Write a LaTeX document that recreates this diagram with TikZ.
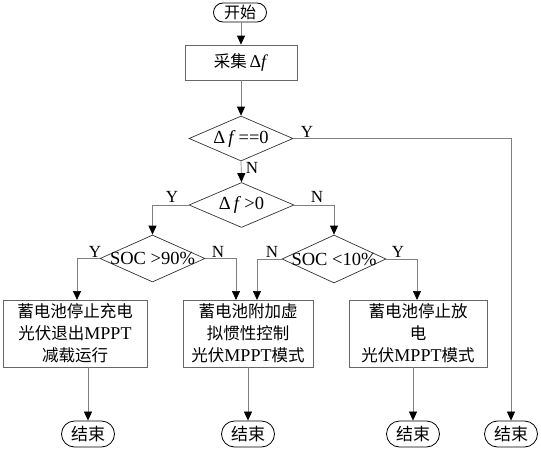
\documentclass[tikz,border=0pt]{standalone}
\usepackage{fontspec}
\setmainfont{Liberation Serif}
\newfontfamily\cjk{Noto Sans CJK SC}
\newcommand\latbig[1]{{\fontsize{18}{22}\selectfont #1}}
\usetikzlibrary{shapes.geometric,shapes.misc,arrows.meta,calc}
\begin{document}
\begin{tikzpicture}[x=1pt,y=-1pt,
  line/.style={draw=black!50, line width=0.7pt},
  arr/.style={line, -{Triangle[length=9pt,width=8pt,color=black]}},
  term/.style={rounded rectangle, draw=black, line width=0.8pt, minimum width=53pt, inner sep=0pt, font=\fontsize{17}{18}\selectfont\cjk},
  box/.style={rectangle, draw=black!60, line width=0.7pt, inner sep=0pt, align=center, font=\fontsize{16.5}{22}\selectfont},
  dia/.style={diamond, draw=black!80, line width=0.7pt, inner sep=0pt},
  dtxt/.style={inner sep=0pt, font=\fontsize{18.5}{20}\selectfont},
  yn/.style={inner sep=0pt, font=\fontsize{17}{18}\selectfont}
]
\useasboundingbox (0,0) rectangle (541,450);

% start
\node[term, minimum height=19pt, font=\fontsize{16}{18}\selectfont\cjk] (start) at (240,12.5) {开始};
\node[box, minimum width=112pt, minimum height=35pt] (acq) at (241,62.5) {{\cjk 采集}\,\latbig{Δ\textit{f}}};

% decisions
\node[dia, minimum width=104pt, minimum height=45pt] (d1) at (241,138.5) {};
\node[dtxt] (t1) at (d1) {Δ\,\textit{f}\,==0};
\node[dia, minimum width=105pt, minimum height=45pt] (d2) at (241.5,205) {};
\node[dtxt] (t2) at (d2) {Δ\,\textit{f}\,>0};
\node[dia, minimum width=105pt, minimum height=47pt] (d3) at (152.5,258.5) {};
\node[dtxt] (t3) at (d3) {SOC >90\%};
\node[dia, minimum width=104pt, minimum height=48pt] (d4) at (334,259) {};
\node[dtxt] (t4) at (d4) {SOC <10\%};

% process boxes
\node[box, minimum width=144pt, minimum height=67pt] (b1) at (75,333.5)
  {{\cjk 蓄电池停止充电}\\{\cjk 光伏退出}\latbig{MPPT}\\{\cjk 减载运行}};
\node[box, minimum width=130pt, minimum height=67pt] (b2) at (248,333.5)
  {{\cjk 蓄电池附加虚}\\{\cjk 拟惯性控制}\\{\cjk 光伏}\latbig{MPPT}{\cjk 模式}};
\node[box, minimum width=138pt, minimum height=67pt] (b3) at (418,333.5)
  {{\cjk 蓄电池停止放}\\{\cjk 电}\\{\cjk 光伏}\latbig{MPPT}{\cjk 模式}};

% end terminals
\node[term, minimum height=26pt] (e1) at (88,434) {结束};
\node[term, minimum height=26pt] (e2) at (248,434) {结束};
\node[term, minimum height=26pt] (e3) at (413,434) {结束};
\node[term, minimum height=26pt] (e4) at (511,434) {结束};

% connectors
\draw[arr] (start.south -| acq) -- (acq.north);
\draw[arr] (acq.south) -- (d1.north);
\draw[arr] (d1.south) -- (d2.north);
\draw[arr] (d1.east) -| (e4.north);
\draw[arr] (d2.west) -| (d3.north);
\draw[arr] (d2.east) -| (d4.north);
\coordinate (b1in) at (77,300);
\coordinate (b2inL) at (236,300);
\coordinate (b2inR) at (257,300);
\coordinate (b3in) at (417,300);
\draw[arr] (d3.west) -| (b1in);
\draw[arr] (d3.east) -| (b2inL);
\draw[arr] (d4.west) -| (b2inR);
\draw[arr] (d4.east) -| (b3in);
\draw[arr] (e1 |- b1.south) -- (e1.north);
\draw[arr] (e2 |- b2.south) -- (e2.north);
\draw[arr] (e3 |- b3.south) -- (e3.north);

% labels
\node[yn] (l1y) at (307,132) {Y};
\node[yn] (l1n) at (252,168) {N};
\node[yn] (l2y) at (172,197) {Y};
\node[yn] (l2n) at (317,197) {N};
\node[yn] (l3y) at (95,252) {Y};
\node[yn] (l3n) at (218,252) {N};
\node[yn] (l4n) at (272,252) {N};
\node[yn] (l4y) at (398,252) {Y};
\end{tikzpicture}
\end{document}
